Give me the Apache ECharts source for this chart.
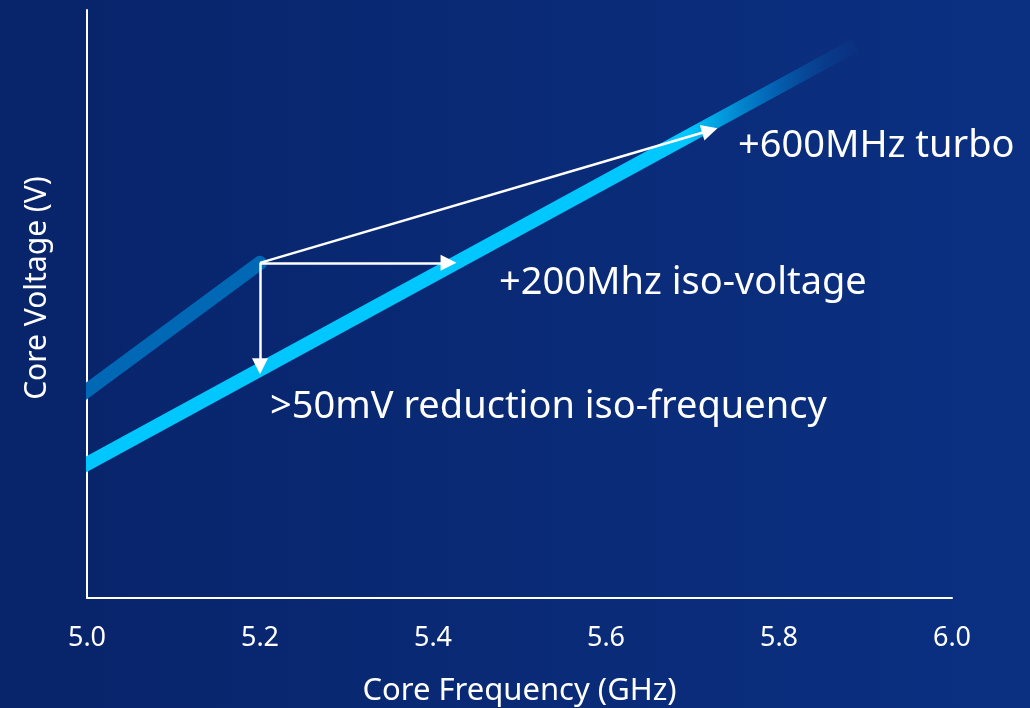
<!DOCTYPE html>
<html><head><meta charset="utf-8">
<script src="https://cdn.jsdelivr.net/npm/echarts@6/dist/echarts.min.js"></script>
<style>html,body{margin:0;padding:0;}#c{width:1030px;height:708px;}</style>
</head><body><div id="c"></div>
<script>
// Data (y in relative voltage units 0-100)
const xTicks = [5.0, 5.2, 5.4, 5.6, 5.8, 6.0];
const oldCurve = [[4.99, 34.2], [5.2, 57.0]];
const newCurve = [[4.99, 22.0], [5.888, 94.0]];
const arrowTurbo = [[5.2, 57.0], [5.72, 79.5]];
const arrowIsoVoltage = [[5.2, 57.0], [5.418, 57.0]];
const arrowIsoFreq = [[5.2, 57.0], [5.2, 39.4]];
const annotations = ['+600MHz turbo', '+200Mhz iso-voltage', '>50mV reduction iso-frequency'];

const chart = echarts.init(document.getElementById('c'));
const font = 'Noto Sans';
const txt = (s, x, y) => ({type: 'text', z: 20, style: {text: s, x: x, y: y, fill: '#ffffff',
  font: '38px "Noto Sans"', verticalAlign: 'middle', align: 'left'}});
const option = {
  backgroundColor: new echarts.graphic.LinearGradient(0, 0, 1, 0, [
    {offset: 0, color: '#08246a'}, {offset: 1, color: '#0b3082'}
  ]),
  animation: false,
  grid: {left: 87, right: 78, top: 10, bottom: 110, outerBoundsMode: 'none', containLabel: false},
  xAxis: {
    type: 'value', min: 5.0, max: 6.0, interval: 0.2,
    axisLine: {show: true, lineStyle: {color: '#ffffff', width: 2}},
    axisTick: {show: false}, splitLine: {show: false},
    axisLabel: {color: '#ffffff', fontSize: 27, fontFamily: font, margin: 27,
      formatter: v => xTicks.find(t => Math.abs(t - v) < 1e-6).toFixed(1)},
    name: 'Core Frequency (GHz)', nameLocation: 'middle', nameGap: 78,
    nameTextStyle: {color: '#ffffff', fontSize: 31, fontFamily: font}
  },
  yAxis: {
    type: 'value', min: 0, max: 100,
    axisLine: {show: true, lineStyle: {color: '#ffffff', width: 2}},
    axisTick: {show: false}, splitLine: {show: false}, axisLabel: {show: false},
    name: 'Core Voltage (V)', nameLocation: 'middle', nameGap: 35,
    nameTextStyle: {color: '#ffffff', fontSize: 30, fontFamily: font, padding: [0, 0, 0, 32]}
  },
  series: [
    {type: 'line', data: oldCurve, symbol: 'none', clip: true,
      lineStyle: {color: '#0068b5', width: 14, cap: 'round'}},
    {type: 'line', data: newCurve, symbol: 'none', clip: true,
      lineStyle: {width: 14, cap: 'butt',
        color: new echarts.graphic.LinearGradient(0, 0, 1, 0, [
          {offset: 0, color: '#00c7fd'}, {offset: 0.78, color: '#00c7fd'},
          {offset: 0.88, color: 'rgba(0,120,200,0.8)'},
          {offset: 1, color: 'rgba(10,60,140,0.1)'}
        ])}},
    ...[arrowTurbo, arrowIsoVoltage, arrowIsoFreq].map(a => ({
      type: 'lines', coordinateSystem: 'cartesian2d', polyline: false,
      symbol: ['none', 'triangle'], symbolSize: [14, 16],
      lineStyle: {color: '#ffffff', width: 2.5, opacity: 1},
      data: [{coords: a}], z: 5
    }))
  ],
  graphic: [
    {type: 'rect', z: 10, shape: {x: 60, y: 370, width: 26, height: 110},
      style: {fill: '#08246a'}},
    txt(annotations[0], 738, 146),
    txt(annotations[1], 499, 283),
    txt(annotations[2], 270, 407)
  ]
};
chart.setOption(option);
</script></body></html>
